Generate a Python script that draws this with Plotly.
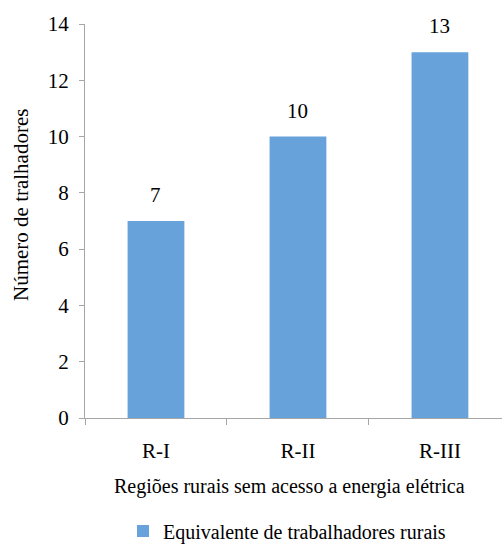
import plotly.graph_objects as go

categories = ["R-I", "R-II", "R-III"]
values = [7, 10, 13]
series_name = "Equivalente de trabalhadores rurais"
y_ticks = [0, 2, 4, 6, 8, 10, 12, 14]

font_family = "'Liberation Serif', 'Times New Roman', Times, serif"
bar_color = "#67A3DA"
axis_color = "#A6A6A6"

fig = go.Figure()
fig.add_trace(go.Bar(
    x=categories, y=values, name=series_name,
    marker=dict(color=bar_color, line=dict(width=0)),
    cliponaxis=False, showlegend=True,
))

# value labels above the bars
for c, v in zip(categories, values):
    fig.add_annotation(x=c, y=v, text=str(v), showarrow=False,
                       xref="x", yref="y", yanchor="bottom", yshift=12,
                       font=dict(family=font_family, size=21, color="#000000"))

# axis titles
fig.add_annotation(x=(21 - 85) / 417, y=(418 - 205) / 394, xref="paper", yref="paper",
                   text="Número de tralhadores", textangle=-90, showarrow=False,
                   xanchor="center", yanchor="middle",
                   font=dict(family=font_family, size=21, color="#000000"))
fig.add_annotation(x=(289 - 85) / 417, y=(418 - 486) / 394, xref="paper", yref="paper",
                   text="Regiões rurais sem acesso a energia elétrica", showarrow=False,
                   xanchor="center", yanchor="middle",
                   font=dict(family=font_family, size=20, color="#000000"))

fig.update_layout(
    width=502, height=544,
    margin=dict(l=85, r=0, t=24, b=126, autoexpand=False),
    paper_bgcolor="white", plot_bgcolor="white",
    font=dict(family=font_family, size=20, color="#000000"),
    bargap=0.6,
    showlegend=True,
    legend=dict(orientation="h", x=(123 - 85) / 417, xanchor="left",
                y=(418 - 531) / 394, yanchor="middle",
                font=dict(family=font_family, size=20), itemwidth=30),
    xaxis=dict(
        range=[-0.5, 2.437], automargin=False,
        showline=True, linecolor=axis_color, linewidth=1,
        ticks="outside", tickson="boundaries", ticklen=6, tickcolor=axis_color,
        showgrid=False, zeroline=False, ticklabelstandoff=14,
        tickfont=dict(family=font_family, size=21),
    ),
    yaxis=dict(
        range=[0, 14], tickvals=y_ticks, automargin=False,
        showline=True, linecolor=axis_color, linewidth=1,
        ticks="outside", ticklen=5, tickcolor=axis_color,
        showgrid=False, zeroline=False, ticklabelstandoff=6,
        tickfont=dict(family=font_family, size=21),
    ),
)

fig.write_html("out.html", config={"displayModeBar": False},
               post_script="document.body.style.margin='0';document.body.style.padding='0';")
